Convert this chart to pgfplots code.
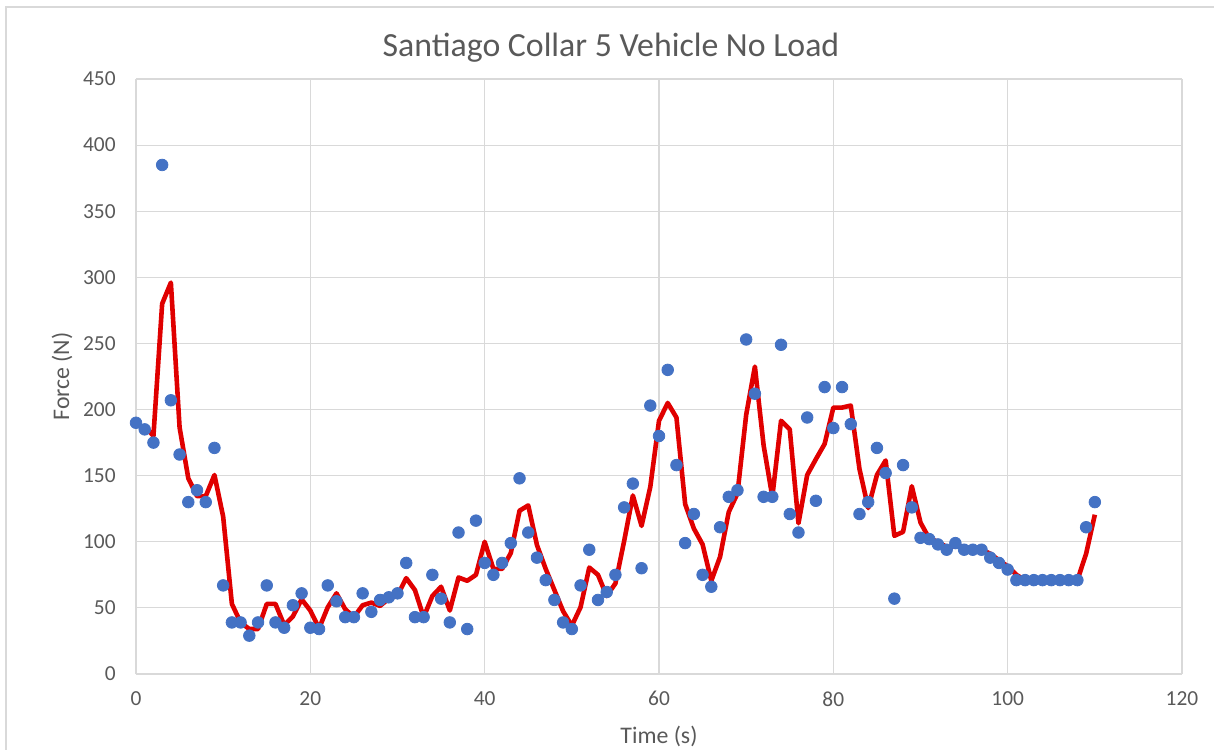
\documentclass[border=0pt]{standalone}
\usepackage{pgfplots}
\usepackage{pgfplotstable}
\pgfplotsset{compat=1.18}
\usepackage{fontspec}
\setmainfont{Carlito}

\definecolor{dotblue}{HTML}{4472C4}
\definecolor{linered}{HTML}{E00000}
\definecolor{gridgray}{HTML}{D9D9D9}
\definecolor{textgray}{HTML}{595959}

% measured force, one sample per second
\pgfplotstableread{
t F
0 190
1 185
2 175
3 385
4 207
5 166
6 130
7 139
8 130
9 171
10 67
11 39
12 39
13 29
14 39
15 67
16 39
17 35
18 52
19 61
20 35
21 34
22 67
23 55
24 43
25 43
26 61
27 47
28 56
29 58
30 61
31 84
32 43
33 43
34 75
35 57
36 39
37 107
38 34
39 116
40 84
41 75
42 84
43 99
44 148
45 107
46 88
47 71
48 56
49 39
50 34
51 67
52 94
53 56
54 62
55 75
56 126
57 144
58 80
59 203
60 180
61 230
62 158
63 99
64 121
65 75
66 66
67 111
68 134
69 139
70 253
71 212
72 134
73 134
74 249
75 121
76 107
77 194
78 131
79 217
80 186
81 217
82 189
83 121
84 130
85 171
86 152
87 57
88 158
89 126
90 103
91 102
92 98
93 94
94 99
95 94
96 94
97 94
98 88
99 84
100 79
101 71
102 71
103 71
104 71
105 71
106 71
107 71
108 71
109 111
110 130
}\forcedata

% two-period moving average of the force
\pgfplotstableread{
t F
1 187.5
2 180
3 280
4 296
5 186.5
6 148
7 134.5
8 134.5
9 150.5
10 119
11 53
12 39
13 34
14 34
15 53
16 53
17 37
18 43.5
19 56.5
20 48
21 34.5
22 50.5
23 61
24 49
25 43
26 52
27 54
28 51.5
29 57
30 59.5
31 72.5
32 63.5
33 43
34 59
35 66
36 48
37 73
38 70.5
39 75
40 100
41 79.5
42 79.5
43 91.5
44 123.5
45 127.5
46 97.5
47 79.5
48 63.5
49 47.5
50 36.5
51 50.5
52 80.5
53 75
54 59
55 68.5
56 100.5
57 135
58 112
59 141.5
60 191.5
61 205
62 194
63 128.5
64 110
65 98
66 70.5
67 88.5
68 122.5
69 136.5
70 196
71 232.5
72 173
73 134
74 191.5
75 185
76 114
77 150.5
78 162.5
79 174
80 201.5
81 201.5
82 203
83 155
84 125.5
85 150.5
86 161.5
87 104.5
88 107.5
89 142
90 114.5
91 102.5
92 100
93 96
94 96.5
95 96.5
96 94
97 94
98 91
99 86
100 81.5
101 75
102 71
103 71
104 71
105 71
106 71
107 71
108 71
109 91
110 120.5
}\avgdata

\begin{document}
\begin{tikzpicture}
\useasboundingbox (0,0) rectangle (607pt,374.5pt);
% chart frame
\draw[gridgray, line width=0.8pt] (3pt,-5pt) -- (3pt,371pt) -- (615pt,371pt);
\node[textgray, font=\fontsize{16.9}{20}\selectfont] at (305.5pt,350.5pt) {Santiago Collar 5 Vehicle No Load};
\begin{axis}[
  at={(68pt,37.5pt)}, anchor=south west,
  scale only axis, width=523pt, height=297.5pt,
  xmin=0, xmax=120, ymin=0, ymax=450,
  xtick distance=20, ytick distance=50,
  grid=major, major grid style={gridgray, line width=0.6pt},
  axis line style={draw=none},
  major tick length=0pt,
  clip=false,
  tick label style={textgray, font=\fontsize{10.7}{12}\selectfont},
  /pgf/number format/assume math mode=true,
  yticklabel style={anchor=east, inner sep=0pt, xshift=-10pt},
  xticklabel style={anchor=north, inner sep=0pt, yshift=-8.5pt},
  xlabel={Time (s)}, ylabel={Force (N)},
  label style={textgray, font=\fontsize{11.9}{14}\selectfont},
  xlabel style={at={([yshift=-31pt]axis description cs:0.5,0)}, anchor=center},
  ylabel style={at={([xshift=-37pt]axis description cs:0,0.5)}, anchor=center},
]
\addplot[only marks, mark=*, mark size=2.9pt, mark options={draw=dotblue, fill=dotblue}] table[x=t, y=F] {\forcedata};
\addplot[linered, line width=2.3pt, line join=round, mark=none] table[x=t, y=F] {\avgdata};
\end{axis}
\end{tikzpicture}
\end{document}
